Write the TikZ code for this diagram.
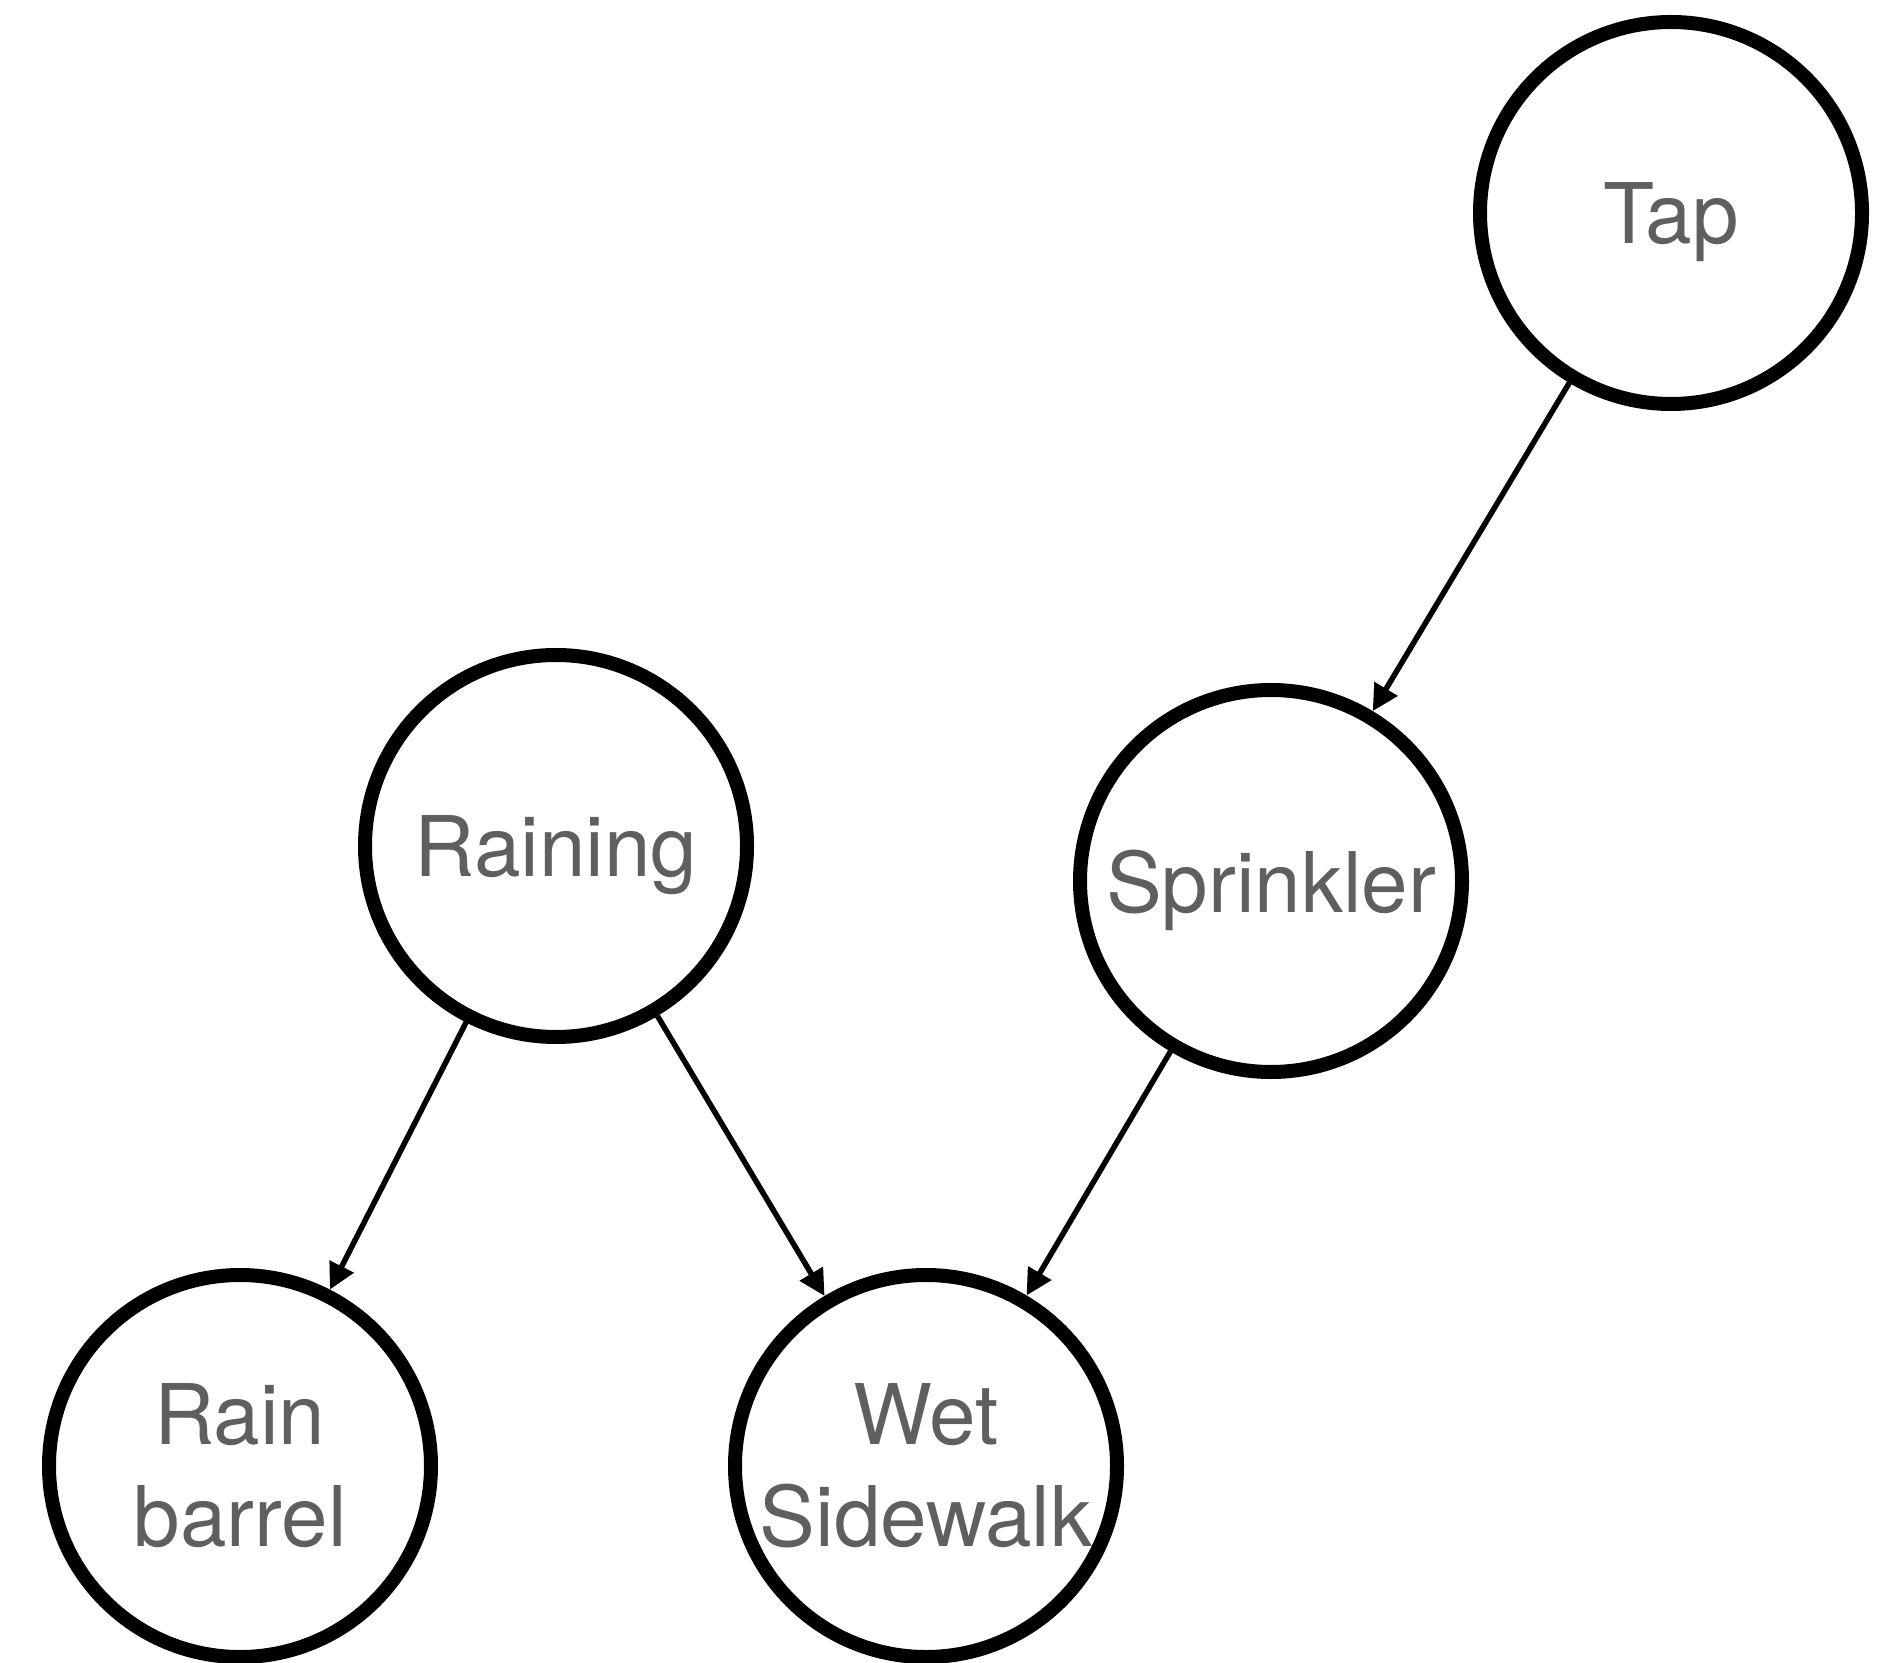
\documentclass[tikz,border=0pt]{standalone}
\usepackage{fontspec}
\setmainfont{TeX Gyre Heros}
\usepackage{tikz}
\usetikzlibrary{arrows.meta}
\definecolor{labelgray}{RGB}{95,95,95}

\begin{document}
\begin{tikzpicture}[
    var/.style={draw,circle,line width=0.14cm,minimum size=3.82cm,inner sep=-2pt,
        text=labelgray,align=center,font=\fontsize{23.8}{29}\selectfont},
    oneline/.style={text depth=0pt},
    edge/.style={line width=0.055cm,-{Triangle[length=0.26cm,width=0.26cm]}}]
\useasboundingbox (0,0) rectangle (19,16.62);
\node[var,oneline] (tap) at (16.71,14.49) {Tap};
\node[var,oneline] (raining) at (5.56,8.16) {Raining};
\node[var,oneline] (sprinkler) at (12.71,7.81) {Sprinkler};
\node[var] (barrel) at (2.40,1.96) {Rain\\barrel};
\node[var] (sidewalk) at (9.26,1.96) {Wet\\Sidewalk};
\begin{scope}[edge]
    \draw (tap) -- (sprinkler);
    \draw (raining) -- (barrel);
    \draw (raining) -- (sidewalk);
    \draw (sprinkler) -- (sidewalk);
\end{scope}
\end{tikzpicture}
\end{document}
